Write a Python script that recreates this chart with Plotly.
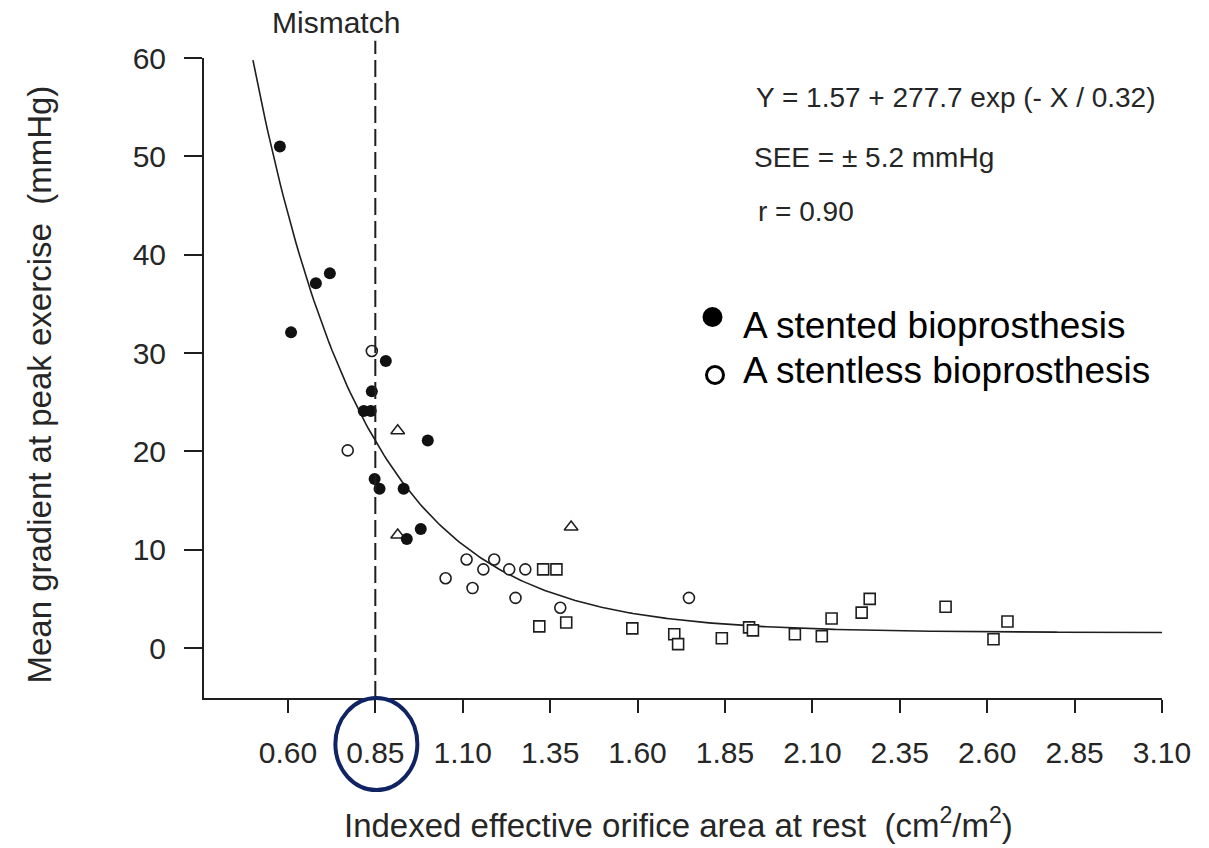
import numpy as np
import plotly.graph_objects as go

# Indexed EOA at rest (cm2/m2) vs mean gradient at peak exercise (mmHg)
stented_x = [0.577, 0.609, 0.680, 0.720, 0.880, 0.840, 0.817, 0.837, 1.000,
             0.848, 0.862, 0.931, 0.940, 0.980]
stented_y = [51.0, 32.1, 37.1, 38.1, 29.2, 26.1, 24.1, 24.1, 21.1,
             17.2, 16.2, 16.2, 11.1, 12.1]

stentless_x = [0.840, 0.771, 1.051, 1.111, 1.128, 1.159, 1.190, 1.233,
               1.251, 1.279, 1.379, 1.747]
stentless_y = [30.2, 20.1, 7.1, 9.0, 6.1, 8.0, 9.0, 8.0,
               5.1, 8.0, 4.1, 5.1]

square_x = [1.330, 1.368, 1.319, 1.396, 1.585, 1.705, 1.716, 1.841, 1.919,
            1.930, 2.050, 2.127, 2.155, 2.241, 2.264, 2.481, 2.618, 2.658]
square_y = [8.0, 8.0, 2.2, 2.6, 2.0, 1.4, 0.4, 1.0, 2.1,
            1.8, 1.4, 1.2, 3.0, 3.6, 5.0, 4.2, 0.9, 2.7]

triangle_x = [0.914, 0.914, 1.410]
triangle_y = [22.1, 11.5, 12.3]

# Exponential fit stated on the chart: Y = a + b * exp(-X / c)
fit_a, fit_b, fit_c = 1.57, 277.7, 0.32
fit_x_start, fit_x_end = 0.50, 3.10

mismatch_x = 0.85

x_tick_vals = [0.60, 0.85, 1.10, 1.35, 1.60, 1.85, 2.10, 2.35, 2.60, 2.85, 3.10]
x_tick_text = ["0.60", "0.85", "1.10", "1.35", "1.60", "1.85", "2.10",
               "2.35", "2.60", "2.85", "3.10"]
y_tick_vals = [0, 10, 20, 30, 40, 50, 60]

FONT = "Liberation Sans, Arial, sans-serif"
INK = "#1e1e1e"
TXT = "#262626"

fit_x = np.linspace(fit_x_start, fit_x_end, 300)
fit_y = fit_a + fit_b * np.exp(-fit_x / fit_c)

fig = go.Figure()

fig.add_trace(go.Scatter(
    x=fit_x, y=fit_y, mode="lines",
    line=dict(color=INK, width=1.6), showlegend=False, hoverinfo="skip"))

fig.add_trace(go.Scatter(
    x=square_x, y=square_y, mode="markers", showlegend=False,
    marker=dict(symbol="square", size=11, color="white",
                line=dict(color=INK, width=1.6))))

fig.add_trace(go.Scatter(
    x=triangle_x, y=triangle_y, mode="markers", showlegend=False,
    marker=dict(symbol="triangle-up", size=12, color="white",
                line=dict(color=INK, width=1.5))))

fig.add_trace(go.Scatter(
    x=stentless_x, y=stentless_y, mode="markers", showlegend=False,
    name="A stentless bioprosthesis",
    marker=dict(symbol="circle", size=11, color="white",
                line=dict(color=INK, width=1.6))))

fig.add_trace(go.Scatter(
    x=stented_x, y=stented_y, mode="markers", showlegend=False,
    name="A stented bioprosthesis",
    marker=dict(symbol="circle", size=12, color="#111111",
                line=dict(color="#111111", width=0))))

shapes = [
    # mismatch threshold
    dict(type="line", xref="x", yref="paper", x0=mismatch_x, x1=mismatch_x,
         y0=0, y1=1.027, line=dict(color=INK, width=2, dash="17px,6px")),
    # highlight around the 0.85 tick label
    dict(type="circle", xref="x", yref="paper", xsizemode="pixel",
         xanchor=0.853, x0=-41, x1=41, y0=0.0, y1=-0.1438,
         line=dict(color="#102463", width=4)),
    # legend symbols
    dict(type="circle", xref="paper", yref="paper", xsizemode="pixel",
         ysizemode="pixel", xanchor=0.5308, yanchor=0.5953,
         x0=-10, x1=10, y0=-10, y1=10,
         fillcolor="black", line=dict(color="black", width=0)),
    dict(type="circle", xref="paper", yref="paper", xsizemode="pixel",
         ysizemode="pixel", xanchor=0.5334, yanchor=0.5047,
         x0=-8.5, x1=8.5, y0=-8.5, y1=8.5,
         fillcolor="white", line=dict(color="black", width=3)),
]

annotations = [
    dict(text="Mismatch", x=0.1378, y=1.0555, xref="paper", yref="paper",
         xanchor="center", yanchor="middle", showarrow=False,
         font=dict(family=FONT, size=30, color=TXT)),
    dict(text="Y = 1.57 + 277.7 exp (- X / 0.32)", x=0.5740, y=0.9383,
         xref="paper", yref="paper", xanchor="left", yanchor="middle",
         showarrow=False, font=dict(family=FONT, size=28, color=TXT)),
    dict(text="SEE = ± 5.2 mmHg", x=0.5720, y=0.8453,
         xref="paper", yref="paper", xanchor="left", yanchor="middle",
         showarrow=False, font=dict(family=FONT, size=28, color=TXT)),
    dict(text="r = 0.90", x=0.5760, y=0.7594,
         xref="paper", yref="paper", xanchor="left", yanchor="middle",
         showarrow=False, font=dict(family=FONT, size=28, color=TXT)),
    dict(text="A stented bioprosthesis", x=0.5610, y=0.582,
         xref="paper", yref="paper", xanchor="left", yanchor="middle",
         showarrow=False, font=dict(family=FONT, size=37, color="black")),
    dict(text="A stentless bioprosthesis", x=0.5610, y=0.5125,
         xref="paper", yref="paper", xanchor="left", yanchor="middle",
         showarrow=False, font=dict(family=FONT, size=37, color="black")),
    dict(text="Mean gradient at peak exercise\u00a0 (mmHg)", x=-0.1722, y=0.4898,
         xref="paper", yref="paper", xanchor="center", yanchor="middle",
         textangle=-90, showarrow=False,
         font=dict(family=FONT, size=33, color=TXT)),
    dict(text="Indexed effective orifice area at rest\u00a0 (cm<sup>2</sup>/m<sup>2</sup>)",
         x=0.1440, y=-0.232, xref="paper", yref="paper",
         xanchor="left", yanchor="bottom", showarrow=False,
         font=dict(family=FONT, size=33, color=TXT)),
]

fig.update_layout(
    width=1209, height=848,
    margin=dict(l=204, r=47, t=58, b=150),
    paper_bgcolor="white", plot_bgcolor="white",
    showlegend=False,
    shapes=shapes, annotations=annotations,
    xaxis=dict(
        range=[0.360, 3.10], tickmode="array", tickvals=x_tick_vals,
        ticktext=x_tick_text, ticks="outside", ticklen=13, tickwidth=1.5,
        tickcolor=INK, showline=True, linecolor=INK, linewidth=2,
        showgrid=False, zeroline=False, ticklabelstandoff=14,
        tickfont=dict(family=FONT, size=30, color=TXT)),
    yaxis=dict(
        range=[-5.08, 60], tickmode="array", tickvals=y_tick_vals,
        ticks="outside", ticklen=18, tickwidth=1.5, tickcolor=INK,
        showline=True, linecolor=INK, linewidth=2, showgrid=False,
        zeroline=False, ticklabelstandoff=12,
        tickfont=dict(family=FONT, size=30, color=TXT)),
)

fig.write_html("out.html")
